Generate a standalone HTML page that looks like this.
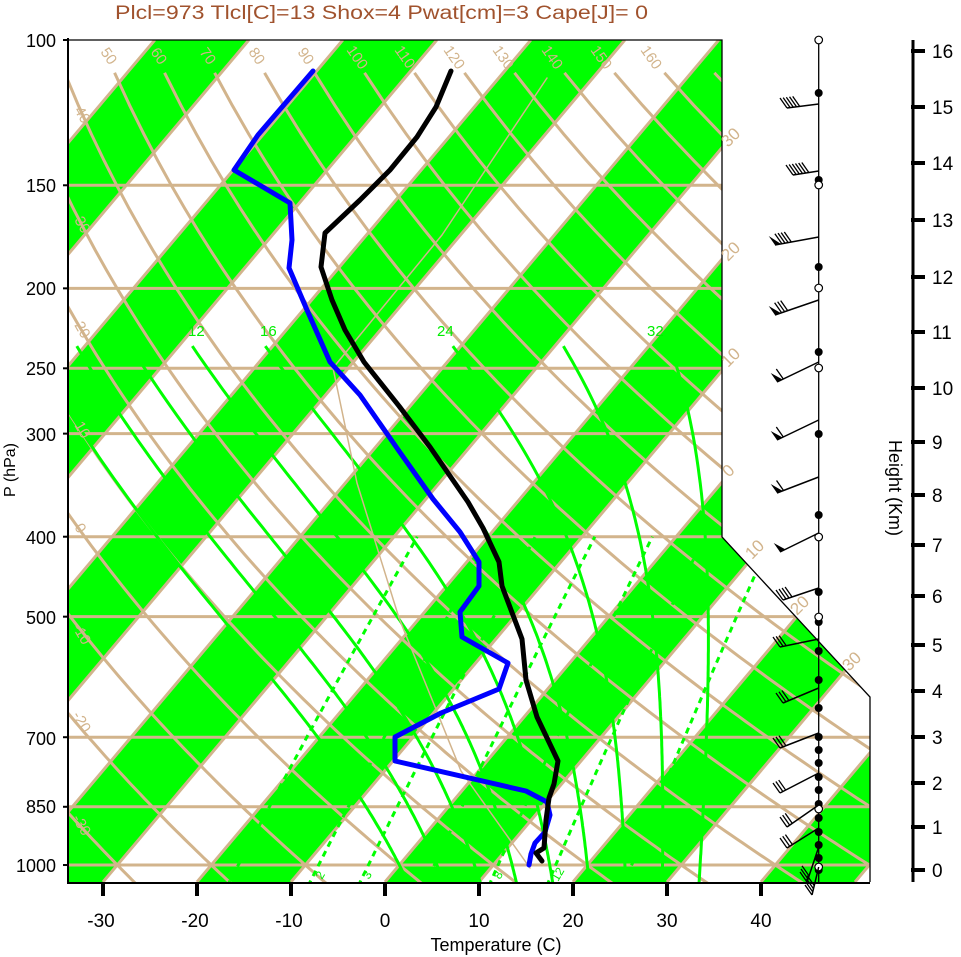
<!DOCTYPE html>
<html><head><meta charset="utf-8"><style>
html,body{margin:0;padding:0;background:#fff;}
svg{display:block;font-family:"Liberation Sans",Arial,sans-serif;}
</style></head><body>
<svg id="s" width="961" height="957" viewBox="0 0 961 957">
<defs><clipPath id="c"><path d="M68,40 L722,40 L722,537 L870,697 L870,882 L68,882Z"/></clipPath></defs>
<rect width="961" height="957" fill="#fff"/>
<g id="bg" clip-path="url(#c)"></g>
<g clip-path="url(#c)" fill="none" stroke-linejoin="round" stroke-linecap="round">
<polyline stroke="#d2b48c" stroke-width="1.5" points="547,78 442,235 333,368 357,483 399,618 461,771 530,868"/>
<polyline stroke="#0000ff" stroke-width="5" points="313,71 258,135 234,170 290,203 292,240 289,268 307,310 330,362 360,395 399,451 433,499 460,532 479,562 479,586 460,612 462,637 508,663 499,689 441,713 395,737 395,761 526,791 547,802 550,815 545,832 535,843 531,854 529,865"/>
<polyline stroke="#000" stroke-width="5" points="451,71 436,107 417,137 390,170 360,200 325,233 321,267 332,300 345,330 364,362 399,406 430,447 468,502 483,528 499,562 502,586 522,639 526,680 537,717 558,761 554,784 549,798 546,820 544,848 536,853 542,861"/>
</g>
<path d="M68,40 L722,40 L722,537 L870,697 L870,882" fill="none" stroke="#000" stroke-width="1.3"/>
<path d="M68,38 L68,883 L870,883" fill="none" stroke="#000" stroke-width="2"/>
<g id="fg"></g>
<text x="115" y="19" font-size="19" fill="#a0522d" textLength="533" lengthAdjust="spacingAndGlyphs">Plcl=973 Tlcl[C]=13 Shox=4 Pwat[cm]=3 Cape[J]= 0</text>
<g font-size="18" text-anchor="end" fill="#000">
<text x="56" y="47">100</text><text x="56" y="192">150</text><text x="56" y="295">200</text><text x="56" y="375">250</text><text x="56" y="441">300</text><text x="56" y="544">400</text><text x="56" y="624">500</text><text x="56" y="745">700</text><text x="56" y="813">850</text><text x="56" y="872">1000</text>
</g>
<text transform="translate(15,470) rotate(-90)" font-size="16" text-anchor="middle">P (hPa)</text>
<g font-size="19" text-anchor="middle">
<text x="101" y="927">-30</text><text x="195" y="927">-20</text><text x="289" y="927">-10</text><text x="385" y="927">0</text><text x="479" y="927">10</text><text x="573" y="927">20</text><text x="667" y="927">30</text><text x="761" y="927">40</text>
</g>
<text x="496" y="951" font-size="18" text-anchor="middle">Temperature (C)</text>
<g font-size="19">
<text x="932" y="58">16</text><text x="932" y="114">15</text><text x="932" y="170">14</text><text x="932" y="227">13</text><text x="932" y="284">12</text><text x="932" y="339">11</text><text x="932" y="395">10</text><text x="932" y="449">9</text><text x="932" y="502">8</text><text x="932" y="552">7</text><text x="932" y="603">6</text><text x="932" y="652">5</text><text x="932" y="698">4</text><text x="932" y="744">3</text><text x="932" y="790">2</text><text x="932" y="834">1</text><text x="932" y="877">0</text>
</g>
<text transform="translate(889,488) rotate(90)" font-size="18" text-anchor="middle">Height (Km)</text>
<g font-size="15" fill="#d2b48c">
<text transform="translate(100,52) rotate(55)">50</text><text transform="translate(150,52) rotate(55)">60</text><text transform="translate(199,52) rotate(55)">70</text><text transform="translate(248,52) rotate(55)">80</text><text transform="translate(297,52) rotate(55)">90</text><text transform="translate(346,50) rotate(55)">100</text><text transform="translate(394,50) rotate(55)">110</text><text transform="translate(443,50) rotate(55)">120</text><text transform="translate(492,50) rotate(55)">130</text><text transform="translate(541,50) rotate(55)">140</text><text transform="translate(590,50) rotate(55)">150</text><text transform="translate(640,50) rotate(55)">160</text>
<text transform="translate(74,110) rotate(60)">40</text><text transform="translate(74,220) rotate(60)">30</text><text transform="translate(74,325) rotate(60)">20</text><text transform="translate(74,425) rotate(60)">10</text><text transform="translate(74,527) rotate(60)">0</text><text transform="translate(72,627) rotate(60)">-10</text><text transform="translate(72,715) rotate(60)">-20</text><text transform="translate(72,818) rotate(60)">-30</text>
</g>
<g font-size="17" fill="#d2b48c">
<text transform="translate(728,148) rotate(-45)">30</text><text transform="translate(728,262) rotate(-45)">20</text><text transform="translate(728,368) rotate(-45)">10</text><text transform="translate(729,478) rotate(-45)">0</text><text transform="translate(752,560) rotate(-45)">10</text><text transform="translate(797,616) rotate(-45)">20</text><text transform="translate(849,672) rotate(-45)">30</text>
</g>
<g font-size="15" fill="#00ee00">
<text x="188" y="336">12</text><text x="260" y="336">16</text><text x="437" y="336">24</text><text x="647" y="336">32</text>
<text transform="translate(322,880) rotate(-60)" font-size="12">2</text><text transform="translate(369,880) rotate(-60)" font-size="12">3</text><text transform="translate(500,880) rotate(-60)" font-size="12">8</text><text transform="translate(558,882) rotate(-60)" font-size="12">12</text>
</g>
</svg>
<script>
(function(){
var Y=function(p){return 40+358.3*Math.log(p/100);};
var X=function(T,p){return 385+9.4*T+0.843*(882-Y(p));};
var bg='',fg='';
for(var T=-120;T<=60;T+=20){
 var a=385+9.4*T,b=385+9.4*(T+10),s=0.843*842;
 bg+='<polygon fill="#00ff00" points="'+a+',882 '+b+',882 '+(b+s)+',40 '+(a+s)+',40"/>';
}
var tan='#d2b48c';
for(var T=-130;T<=60;T+=10){
 var a=385+9.4*T;bg+='<line x1="'+a+'" y1="882" x2="'+(a+0.843*842)+'" y2="40" stroke="'+tan+'" stroke-width="3"/>';
}
for(var th=-40;th<=260;th+=10){
 var pts=[];
 for(var p=1060;p>=110;p-=10){var Tk=(th+273.15)*Math.pow(p/1000,0.2857);pts.push(X(Tk-273.15,p).toFixed(1)+','+Y(p).toFixed(1));}
 var p=109.6,Tk=(th+273.15)*Math.pow(p/1000,0.2857);pts.push(X(Tk-273.15,p).toFixed(1)+','+Y(p).toFixed(1));
 bg+='<polyline fill="none" stroke="'+tan+'" stroke-width="3" points="'+pts.join(' ')+'"/>';
}
[150,200,250,300,400,500,700,850,1000].forEach(function(p){var y=Y(p);bg+='<line x1="60" y1="'+y+'" x2="880" y2="'+y+'" stroke="'+tan+'" stroke-width="3"/>';});
function dTdp(T,p){var Tk=T+273.15;var es=6.112*Math.exp(17.67*T/(T+243.5));var rs=0.622*es/(p-es);
 return (287.04*Tk+2.501e6*rs)/(p*(1005.7+2.501e6*2.501e6*rs*0.622/(287.04*Tk*Tk)));}
for(var tw=0;tw<=32;tw+=4){
 var T=tw,p=1000,up=[];
 up.push([T,p]);
 while(p>235){var h=-5;var k1=dTdp(T,p);var k2=dTdp(T+h*k1/2,p+h/2);T+=h*k2;p+=h;up.push([T,p]);}
 var T2=tw,p2=1000,dn=[];
 while(p2<1060){var h2=5;var k1b=dTdp(T2,p2);var k2b=dTdp(T2+h2*k1b/2,p2+h2/2);T2+=h2*k2b;p2+=h2;dn.push([T2,p2]);}
 var all=dn.reverse().concat(up);
 var pts=all.map(function(q){return X(q[0],q[1]).toFixed(1)+','+Y(q[1]).toFixed(1);});
 bg+='<polyline fill="none" stroke="#00ff00" stroke-width="3" points="'+pts.join(' ')+'"/>';
}
[1,2,3,5,8,12,20].forEach(function(w){
 var pts=[];
 for(var p=1060;p>=400;p-=10){var e=w*p/(622+w);var L=Math.log(e/6.112);var Td=243.5*L/(17.67-L);pts.push(X(Td,p).toFixed(1)+','+Y(p).toFixed(1));}
 bg+='<polyline fill="none" stroke="#00ff00" stroke-width="3" stroke-dasharray="6,5" points="'+pts.join(' ')+'"/>';
});
document.getElementById('bg').innerHTML=bg;
[-30,-20,-10,0,10,20,30,40].forEach(function(t){var x=385+9.4*t;fg+='<line x1="'+x+'" y1="883" x2="'+x+'" y2="896" stroke="#000" stroke-width="4"/>';});
[100,150,200,250,300,400,500,700,850,1000].forEach(function(p){var y=Y(p);fg+='<line x1="63" y1="'+y+'" x2="68" y2="'+y+'" stroke="#000" stroke-width="2"/>';});
fg+='<line x1="913" y1="40" x2="913" y2="882" stroke="#000" stroke-width="3"/>';
[51,107,163,220,277,332,388,442,495,545,596,645,691,737,783,827,870].forEach(function(y){fg+='<line x1="911" y1="'+y+'" x2="925" y2="'+y+'" stroke="#000" stroke-width="4"/>';});
var wx=818.7;
fg+='<line x1="'+wx+'" y1="40" x2="'+wx+'" y2="882" stroke="#000" stroke-width="1.3"/>';
[93,180,267,352,434,515,592,622,651,680,708,737,750,763,777,790,804,818,832,845,858,870].forEach(function(y){fg+='<circle cx="'+wx+'" cy="'+y+'" r="4" fill="#000"/>';});
[40,185,288,368,537,617,809,867].forEach(function(y){fg+='<circle cx="'+wx+'" cy="'+y+'" r="3.8" fill="#fff" stroke="#000" stroke-width="1.2"/>';});
function barb(y0,x1,y1,nf,nb){
 var x0=wx;fg+='<line x1="'+x0+'" y1="'+y0+'" x2="'+x1+'" y2="'+y1+'" stroke="#000" stroke-width="1.5"/>';
 var dx=x0-x1,dy=y0-y1,L=Math.sqrt(dx*dx+dy*dy),ux=dx/L,uy=dy/L;
 var bx=-7,by=-10,s=0;
 for(var i=0;i<nf;i++){var ax=x1+ux*s,ay=y1+uy*s,cx=x1+ux*(s+6),cy=y1+uy*(s+6);
  fg+='<polygon fill="#000" points="'+ax+','+ay+' '+cx+','+cy+' '+(ax+bx*0.9)+','+(ay+by*0.9)+'"/>';s+=7;}
 for(var j=0;j<nb;j++){var ax2=x1+ux*s,ay2=y1+uy*s;
  fg+='<line x1="'+ax2+'" y1="'+ay2+'" x2="'+(ax2+bx)+'" y2="'+(ay2+by)+'" stroke="#000" stroke-width="1.3"/>';s+=3.2;}
}
barb(104,787,108,0,5);barb(171,793,175,0,6);barb(237,775,245,1,4);barb(300,775,315,1,3);
barb(362,777,382,1,1);barb(420,777,440,1,1);barb(477,777,493,1,1);barb(533,780,552,1,0);
barb(588,783,600,0,4);barb(639,780,647,0,3);barb(688,783,703,0,3);barb(733,780,748,0,3);
barb(773,780,793,0,3);barb(805,787,827,0,3);barb(828,787,848,0,3);barb(847,807,882,0,3);barb(867,812,895,0,4);
document.getElementById('fg').innerHTML=fg;
})();
</script>
</body></html>
